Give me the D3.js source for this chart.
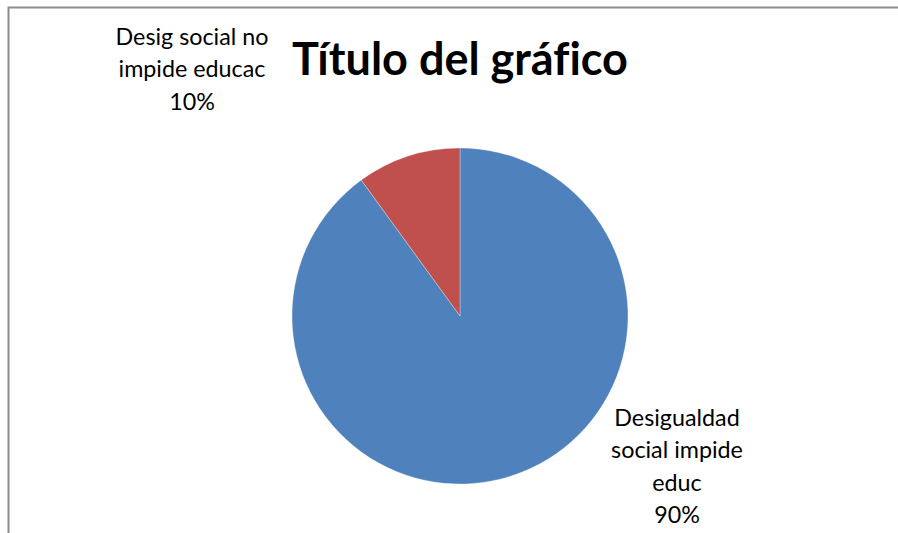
<!DOCTYPE html>
<html><head><meta charset="utf-8">
<script src="https://cdn.jsdelivr.net/npm/d3@7"></script>
<style>body{margin:0;background:#fff}svg{display:block}text{font-variant-ligatures:none;font-feature-settings:"liga" 0}</style>
</head><body>
<svg id="c" width="898" height="533"></svg>
<script>
const categories = ["Desigualdad social impide educ", "Desig social no impide educac"];
const values = [90, 10];
const labelLines = [["Desigualdad", "social impide", "educ", "90%"], ["Desig social no", "impide educac", "10%"]];
const colors = ["#4F81BD", "#C0504D"];
const title = "Título del gráfico";

const svg = d3.select("#c");
const font = "Lato, 'Open Sans', sans-serif";
svg.append("rect").attr("x", 8.5).attr("y", 7.5).attr("width", 900).attr("height", 540)
  .attr("fill", "#fff").attr("stroke", "#8c8c8c").attr("stroke-width", 2);

svg.append("text").attr("x", 460).attr("y", 75).attr("text-anchor", "middle")
  .attr("font-family", font).attr("font-weight", "bold").attr("font-size", 45)
  .attr("fill", "#000").text(title);

const cx = 460, cy = 316, r = 168;
const pie = d3.pie().sort(null).value(d => d)(values);
const arc = d3.arc().innerRadius(0).outerRadius(r);
const g = svg.append("g").attr("transform", `translate(${cx},${cy})`);
g.selectAll("path").data(pie).join("path").attr("d", arc)
  .attr("fill", (d, i) => colors[i]).attr("stroke", "#fff").attr("stroke-width", 0.5).attr("stroke-opacity", 0.6);

const labelPos = [[677, 426], [192, 45]];
labelLines.forEach((lines, i) => {
  const t = svg.append("text").attr("text-anchor", "middle").attr("font-family", font)
    .attr("font-size", 23.3).attr("fill", "#000");
  lines.forEach((l, j) => t.append("tspan").attr("x", labelPos[i][0]).attr("y", labelPos[i][1] + j * 32.3).text(l));
});
</script>
</body></html>
